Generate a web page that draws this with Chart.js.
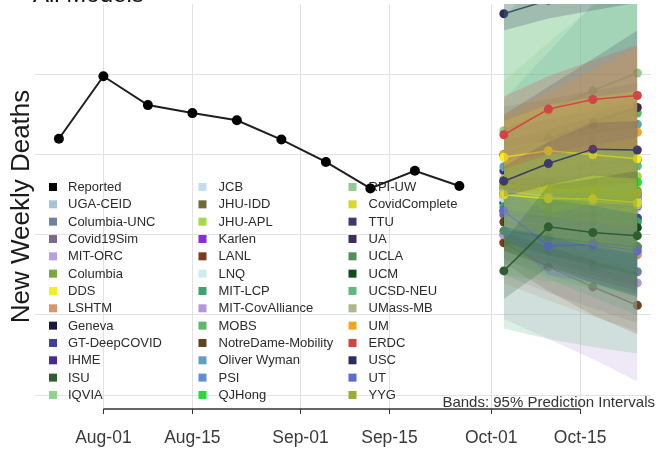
<!DOCTYPE html>
<html>
<head>
<meta charset="utf-8">
<script src="https://cdn.jsdelivr.net/npm/chart.js@4.4.0/dist/chart.umd.min.js"></script>
<style>
  html, body { margin: 0; padding: 0; background: #ffffff; overflow: hidden; }
  #wrap { position: absolute; left: 0; top: -22px; width: 656px; height: 490px; }
</style>
</head>
<body>
<div id="wrap"><canvas id="chart"></canvas></div>
<script>
// Observed weekly deaths (week ending Saturday)
const reportedDates = ['2020-07-25', '2020-08-01', '2020-08-08', '2020-08-15', '2020-08-22',
                       '2020-08-29', '2020-09-05', '2020-09-12', '2020-09-19', '2020-09-26'];
const reportedDeaths = [320, 398, 362, 352, 343, 319, 291, 258, 280, 261];

// Forecast target weeks
const forecastDates = ['2020-10-03', '2020-10-10', '2020-10-17', '2020-10-24'];

// Axis breaks
const tickDates = ['2020-08-01', '2020-08-15', '2020-09-01', '2020-09-15', '2020-10-01', '2020-10-15'];
const tickLabels = ['Aug-01', 'Aug-15', 'Sep-01', 'Sep-15', 'Oct-01', 'Oct-15'];
const deathBreaks = [0, 100, 200, 300, 400];

const modelNames = [
  'UGA-CEID', 'Columbia-UNC', 'Covid19Sim', 'MIT-ORC', 'Columbia', 'DDS', 'LSHTM', 'Geneva',
  'GT-DeepCOVID', 'IHME', 'ISU', 'IQVIA', 'JCB', 'JHU-IDD', 'JHU-APL', 'Karlen', 'LANL', 'LNQ',
  'MIT-LCP', 'MIT-CovAlliance', 'MOBS', 'NotreDame-Mobility', 'Oliver Wyman', 'PSI', 'QJHong',
  'RPI-UW', 'CovidComplete', 'TTU', 'UA', 'UCLA', 'UCM', 'UCSD-NEU', 'UMass-MB', 'UM', 'ERDC',
  'USC', 'UT', 'YYG'
];

// Point forecasts (median), one row per model, one column per target week
const medianDeaths = [
  [262, 255, 250, 246], [200, 185, 170, 154], [225, 222, 221, 220], [240, 238, 237, 236],
  [248, 250, 252, 255], [297, 305, 300, 295], [191, 185, 180, 175], [258, 252, 247, 243],
  [240, 232, 226, 221], [280, 285, 290, 294], [155, 210, 203, 199], [270, 268, 266, 265],
  [245, 240, 236, 233], [268, 262, 256, 250], [260, 265, 270, 273], [252, 246, 240, 236],
  [190, 160, 135, 112], [255, 250, 246, 242], [235, 228, 222, 216], [200, 180, 160, 140],
  [300, 318, 336, 352], [216, 205, 195, 185], [285, 305, 322, 338], [265, 260, 255, 250],
  [258, 262, 264, 266], [330, 355, 380, 402], [250, 245, 245, 240], [267, 289, 307, 306],
  [300, 320, 340, 359], [205, 197, 190, 185], [230, 222, 215, 209], [250, 262, 274, 286],
  [255, 248, 242, 237], [300, 310, 320, 328], [325, 357, 369, 374], [476, 493, 511, 528],
  [230, 186, 188, 180], [262, 258, 255, 252]
];

// Lower bound of the 95% prediction interval
const lower95 = [
  [205, 185, 168, 152], [150, 128, 108, 90], [170, 150, 132, 115], [215, 205, 196, 188],
  [190, 175, 160, 148], [250, 245, 236, 226], [140, 118, 98, 80], [230, 220, 212, 204],
  [185, 165, 150, 136], [240, 238, 236, 234], [120, 160, 140, 122], [215, 200, 188, 176],
  [200, 184, 170, 158], [180, 160, 140, 124], [215, 212, 208, 205], [222, 212, 202, 194],
  [165, 130, 100, 76], [210, 196, 184, 172], [170, 145, 122, 100], [95, 70, 45, 17],
  [150, 142, 134, 126], [180, 160, 145, 130], [205, 196, 187, 178], [200, 185, 170, 155],
  [228, 222, 218, 214], [270, 280, 290, 298], [210, 198, 186, 176], [248, 262, 274, 270],
  [250, 255, 260, 265], [180, 166, 154, 144], [190, 175, 162, 150], [83, 70, 60, 52],
  [205, 185, 168, 152], [255, 250, 245, 240], [282, 300, 306, 308], [455, 470, 480, 490],
  [200, 150, 140, 126], [232, 222, 214, 206]
];

// Upper bound of the 95% prediction interval
const upper95 = [
  [322, 335, 350, 362], [255, 248, 240, 232], [285, 300, 315, 330], [266, 272, 278, 285],
  [310, 330, 350, 368], [342, 362, 372, 380], [250, 262, 276, 290], [288, 286, 284, 283],
  [300, 305, 310, 316], [318, 332, 346, 360], [192, 262, 270, 280], [330, 345, 360, 372],
  [294, 302, 310, 318], [360, 370, 380, 390], [305, 318, 332, 345], [285, 283, 281, 280],
  [218, 195, 175, 158], [300, 306, 312, 318], [305, 318, 330, 342], [300, 295, 290, 285],
  [520, 600, 680, 760], [255, 252, 250, 248], [369, 428, 488, 545], [335, 345, 355, 365],
  [288, 300, 310, 320], [392, 440, 485, 530], [292, 302, 312, 322], [286, 316, 340, 342],
  [350, 385, 420, 455], [232, 230, 228, 228], [270, 272, 275, 279], [470, 540, 610, 680],
  [310, 318, 326, 334], [350, 378, 406, 434], [373, 398, 418, 437], [500, 520, 545, 570],
  [262, 226, 238, 240], [294, 296, 298, 300]
];

const modelColors = [
  '#a9c3d6', '#6f7fa6', '#7b6a8c', '#b9a0dc', '#79a83c', '#f2f21a', '#d8946a', '#191942',
  '#3e3f9b', '#4a2a8c', '#2f5f2f', '#8fd18f', '#c2dcf0', '#6e6a3c', '#a6d94a', '#8a2be2',
  '#7b3d1d', '#cdebf5', '#3aa56c', '#b597da', '#5db86b', '#5e4522', '#5ea3bd', '#5e8fd8',
  '#22dd33', '#93cc93', '#d8d82c', '#3b3a6b', '#3f2b5c', '#508f5c', '#114d1c', '#60ba7d',
  '#a9b98c', '#f2a51f', '#d44444', '#2c2c5f', '#5c6bd4', '#9cac32'
];

// Models layered last, in this order; every other model's line sits beneath all bands
const frontModels = ['UMass-MB', 'UCLA', 'YYG', 'UT', 'CovidComplete', 'DDS', 'ISU', 'TTU', 'ERDC'];

const FONT = '"Liberation Sans", Arial, Helvetica, sans-serif';
const SHIFT = 22;            // canvas sits 22px above the page top
const BAND_ALPHA = 0.22;

const DAY_MS = 86400000;
const ORIGIN = Date.UTC(2020, 7, 1);
function dayOf(s) {
  const [y, m, d] = s.split('-').map(Number);
  return (Date.UTC(y, m - 1, d) - ORIGIN) / DAY_MS;
}
function rgba(hex, a) {
  const n = parseInt(hex.slice(1), 16);
  return `rgba(${(n >> 16) & 255},${(n >> 8) & 255},${n & 255},${a})`;
}
const fcX = forecastDates.map(dayOf);
const tickDays = tickDates.map(dayOf);

const datasets = [{
  label: 'Reported',
  data: reportedDates.map((d, i) => ({ x: dayOf(d), y: reportedDeaths[i] })),
  borderColor: '#1e1e1e',
  backgroundColor: '#000000',
  borderWidth: 2,
  pointRadius: 5,
  pointBorderWidth: 0,
  order: 0
}];

function addModel(i, lineOrder, bandOrder) {
  const name = modelNames[i];
  const c = modelColors[i];
  datasets.push({
    label: name,
    data: fcX.map((x, j) => ({ x, y: medianDeaths[i][j] })),
    borderColor: c,
    backgroundColor: c,
    borderWidth: 1.5,
    pointRadius: 4.5,
    pointBorderWidth: 0,
    order: lineOrder
  });
  datasets.push({
    label: name + ' 95% upper',
    data: fcX.map((x, j) => ({ x, y: upper95[i][j] })),
    borderColor: 'rgba(0,0,0,0)',
    backgroundColor: rgba(c, BAND_ALPHA),
    borderWidth: 0,
    pointRadius: 0,
    fill: '+1',
    order: bandOrder
  });
  datasets.push({
    label: name + ' 95% lower',
    data: fcX.map((x, j) => ({ x, y: lower95[i][j] })),
    borderColor: 'rgba(0,0,0,0)',
    backgroundColor: 'rgba(0,0,0,0)',
    borderWidth: 0,
    pointRadius: 0,
    fill: false,
    order: bandOrder - 0.5
  });
}

// background models: all lines first, then all their bands (legend order)
modelNames.forEach((name, i) => {
  if (frontModels.includes(name)) return;
  addModel(i, 3000 - i, 2000 - 2 * i);
});
// front models: line then band, one model at a time
frontModels.forEach((name, rank) => {
  const i = modelNames.indexOf(name);
  addModel(i, 1000 - 3 * rank, 1000 - 3 * rank - 1);
});

// Title, inset legend, capped x axis line and band caption
const decorations = {
  id: 'decorations',
  beforeDatasetsDraw(chart) {
    const ctx = chart.ctx;
    ctx.save();
    // legend: 3 columns x 13 rows, column-major
    const entries = [{ name: 'Reported', color: '#000000' }]
      .concat(modelNames.map((n, i) => ({ name: n, color: modelColors[i] })));
    const colKeyX = [53, 202.5, 352.5];
    const colTextX = [68, 218.5, 368.5];
    const rowY0 = 187 + SHIFT, rowStep = 17.33;
    ctx.font = '13px ' + FONT;
    ctx.textBaseline = 'middle';
    ctx.textAlign = 'left';
    entries.forEach((e, k) => {
      const col = Math.floor(k / 13), row = k % 13;
      const y = rowY0 + row * rowStep;
      ctx.fillStyle = e.color;
      ctx.fillRect(colKeyX[col] - 4, y - 4, 8, 8);
      ctx.fillStyle = '#2b2b2b';
      ctx.fillText(e.name, colTextX[col], y + 0.5);
    });
    ctx.restore();
  },
  afterDraw(chart) {
    const ctx = chart.ctx;
    const xs = chart.scales.x;
    const area = chart.chartArea;
    ctx.save();
    // axis line spanning the first to last break
    ctx.strokeStyle = '#333333';
    ctx.lineWidth = 1.5;
    ctx.beginPath();
    ctx.moveTo(xs.getPixelForValue(tickDays[0]), area.bottom);
    ctx.lineTo(xs.getPixelForValue(tickDays[tickDays.length - 1]), area.bottom);
    ctx.stroke();
    // plot title
    ctx.fillStyle = '#111111';
    ctx.font = '24px ' + FONT;
    ctx.textAlign = 'left';
    ctx.textBaseline = 'alphabetic';
    ctx.fillText('All Models', 33, 2 + SHIFT);
    // caption
    ctx.fillStyle = '#333333';
    ctx.font = '15px ' + FONT;
    ctx.textAlign = 'right';
    ctx.textBaseline = 'middle';
    ctx.fillText('Bands: 95% Prediction Intervals', 655, 403 + SHIFT);
    ctx.restore();
  }
};

new Chart(document.getElementById('chart'), {
  type: 'line',
  data: { datasets },
  plugins: [decorations],
  options: {
    responsive: true,
    maintainAspectRatio: false,
    devicePixelRatio: 1,
    animation: false,
    events: [],
    layout: { padding: { left: 9, right: 0, top: 26, bottom: 5 } },
    plugins: {
      legend: { display: false },
      tooltip: { enabled: false },
      title: { display: false },
      filler: { propagate: false }
    },
    scales: {
      x: {
        type: 'linear',
        min: -10.76,
        max: 86.15,
        afterBuildTicks(scale) { scale.ticks = tickDays.map(v => ({ value: v })); },
        ticks: {
          autoSkip: false,
          maxRotation: 0,
          minRotation: 0,
          padding: 14,
          color: '#3a3a3a',
          font: { family: FONT, size: 17.5, lineHeight: 1.2 },
          callback: (v, i) => tickLabels[i]
        },
        grid: {
          color: '#e2e2e2',
          lineWidth: 1,
          drawTicks: true,
          tickLength: 5,
          tickColor: '#333333'
        },
        border: { display: false }
      },
      y: {
        type: 'linear',
        min: -17.4,
        max: 488.2,
        afterBuildTicks(scale) { scale.ticks = deathBreaks.map(v => ({ value: v })); },
        ticks: { display: false },
        grid: { color: '#e2e2e2', lineWidth: 1, drawTicks: false },
        border: { display: false },
        title: {
          display: true,
          text: 'New Weekly Deaths',
          color: '#1a1a1a',
          font: { family: FONT, size: 26, lineHeight: 1 },
          padding: { top: 0, bottom: 0 }
        }
      }
    }
  }
});
</script>
</body>
</html>
